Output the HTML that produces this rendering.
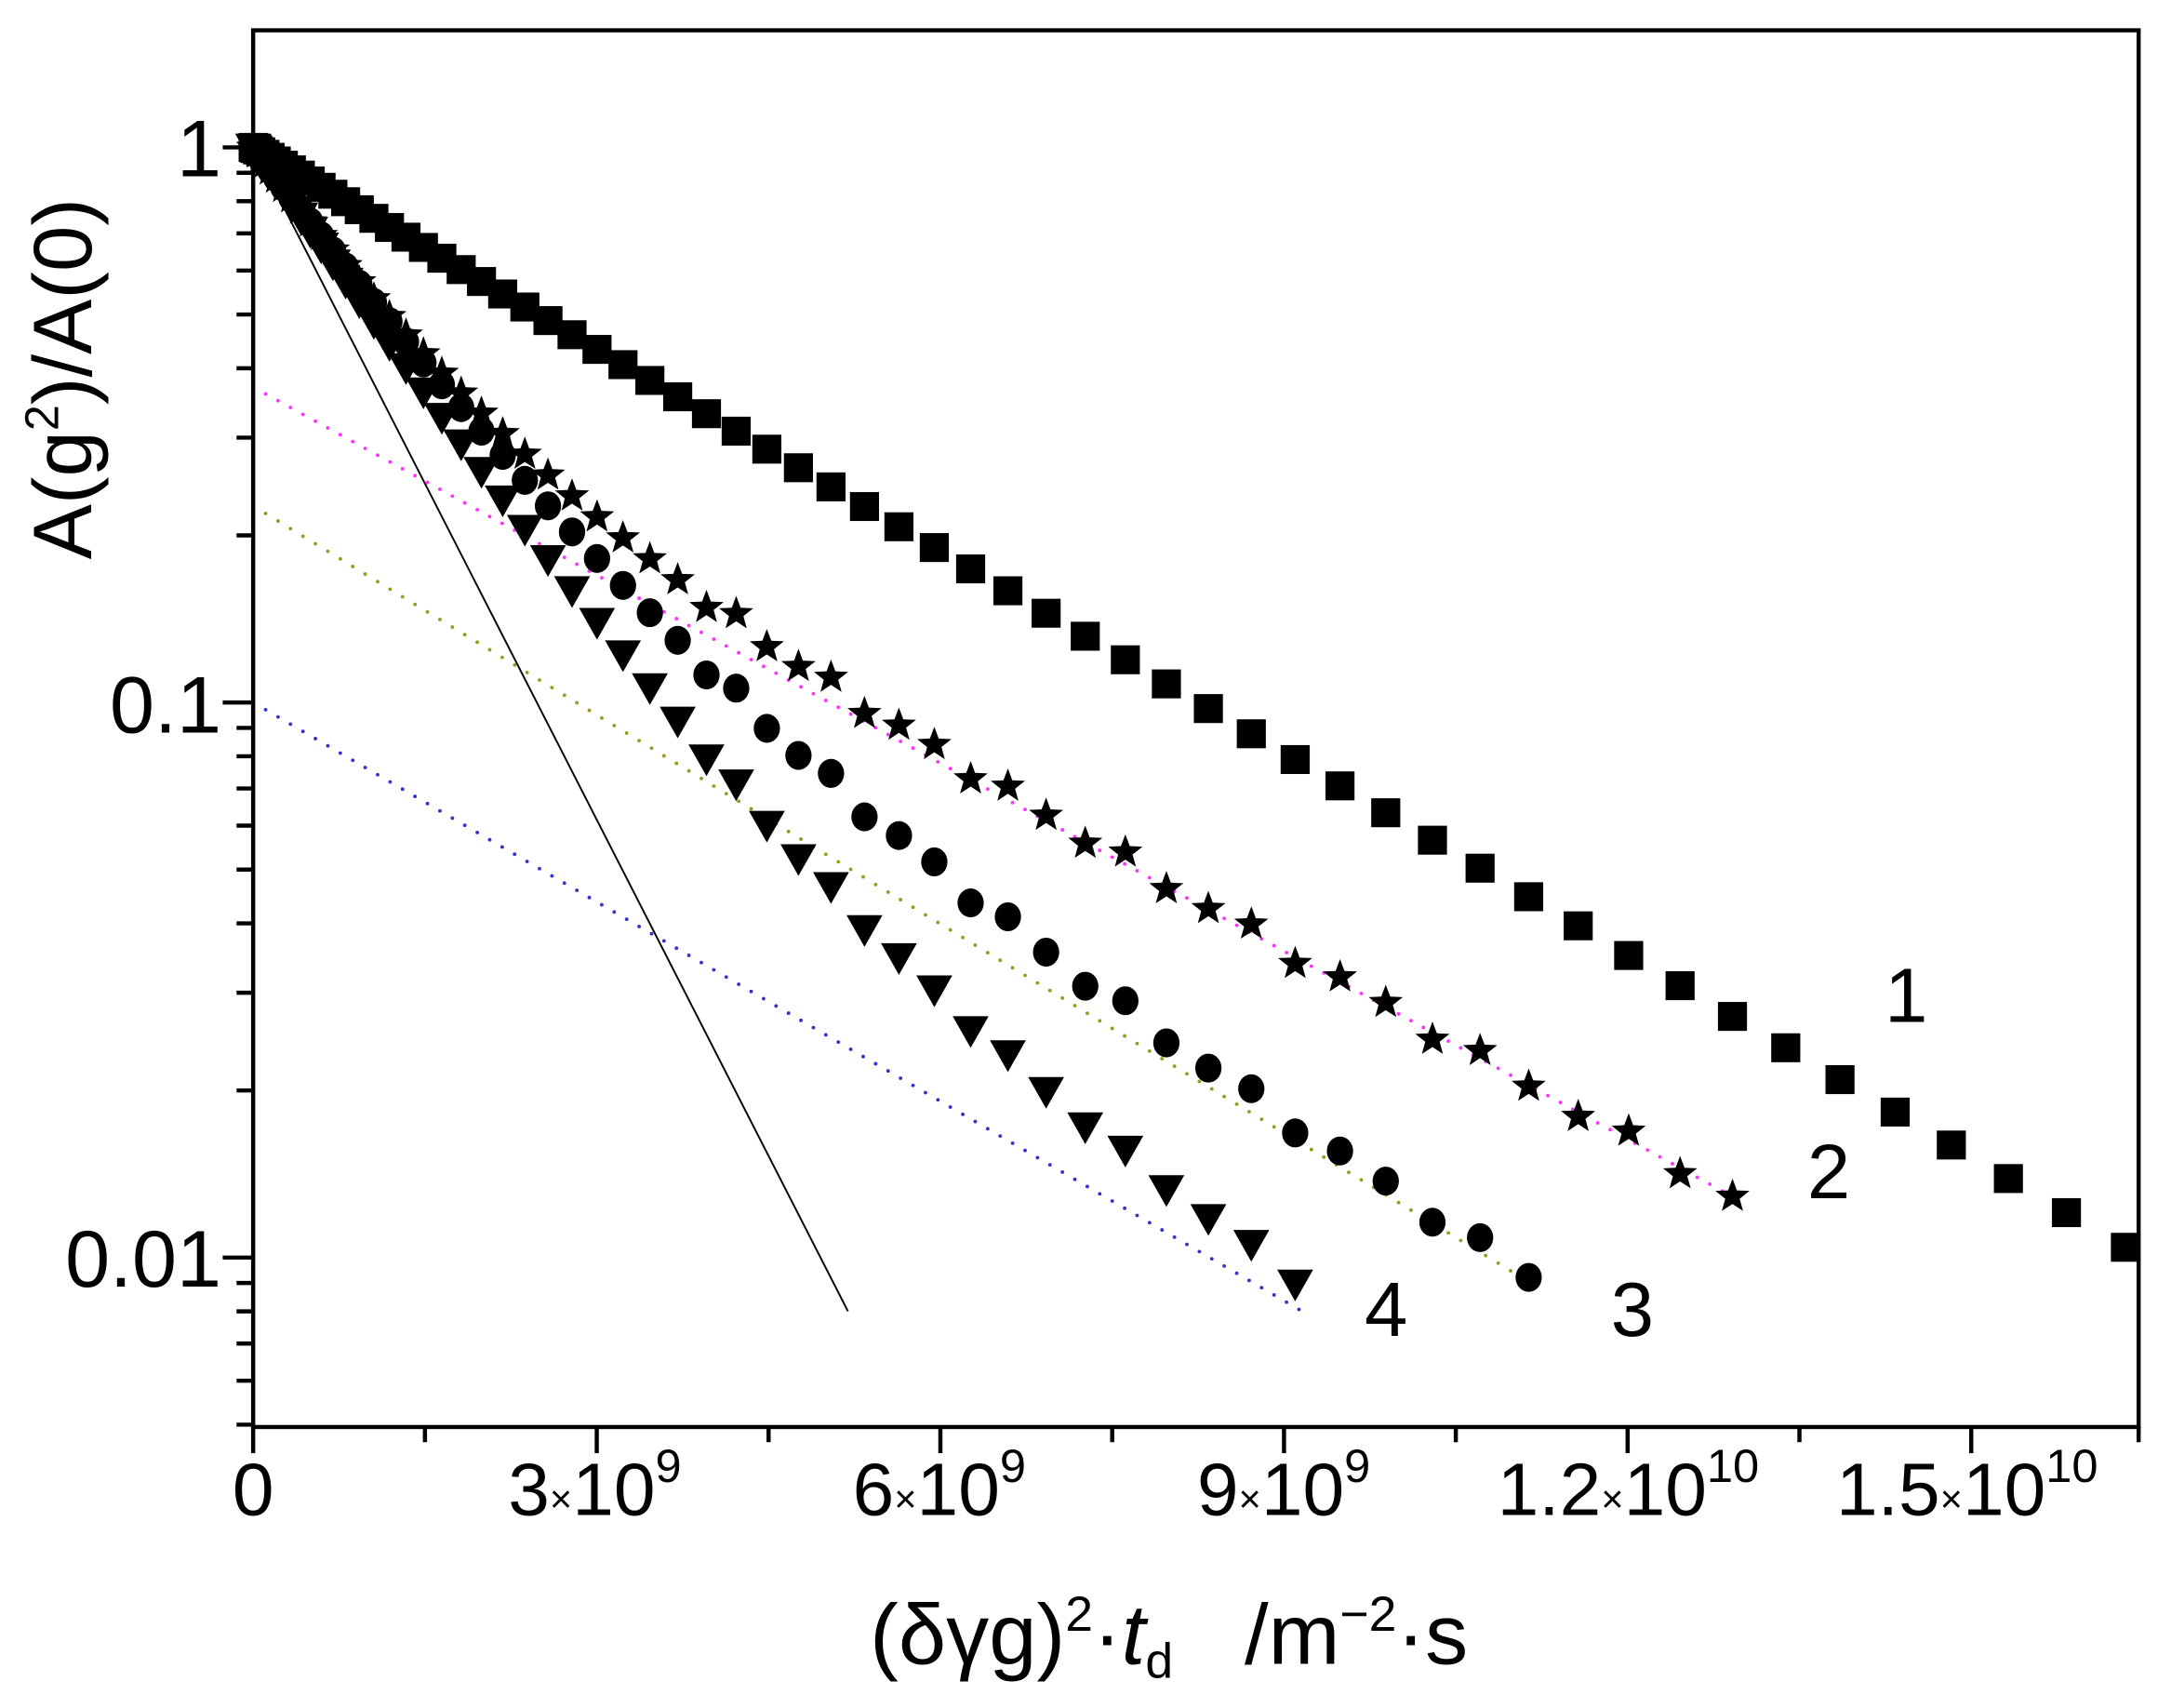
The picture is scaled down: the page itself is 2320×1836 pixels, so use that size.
<!DOCTYPE html>
<html><head><meta charset="utf-8"><style>
html,body{margin:0;padding:0;background:#fff;}
svg{display:block;}
text{font-family:"Liberation Sans",sans-serif;fill:#000;}
</style></head><body>
<svg id="s" width="2320" height="1836" viewBox="0 0 1560 1240" preserveAspectRatio="none" xmlns="http://www.w3.org/2000/svg">
<g id="marks"></g>
<line x1="183" y1="107" x2="613" y2="952" stroke="#000" stroke-width="1.3"/>
<rect x="183" y="22" width="1363" height="1014" fill="none" stroke="#000" stroke-width="3"/>
<g id="ticks" stroke="#000" stroke-width="3"></g>
<g font-size="58" text-anchor="end">
<text x="160" y="128">1</text>
<text x="160" y="532">0.1</text>
<text x="160" y="934">0.01</text>
</g>
<g font-size="54" text-anchor="middle">
<text x="183" y="1100">0</text>
<text x="430" y="1100">3<tspan font-size="28" dy="-2">×</tspan><tspan dy="2">10</tspan><tspan font-size="34" dy="-24">9</tspan></text>
<text x="679" y="1100">6<tspan font-size="28" dy="-2">×</tspan><tspan dy="2">10</tspan><tspan font-size="34" dy="-24">9</tspan></text>
<text x="928" y="1100">9<tspan font-size="28" dy="-2">×</tspan><tspan dy="2">10</tspan><tspan font-size="34" dy="-24">9</tspan></text>
<text x="1177" y="1100">1.2<tspan font-size="28" dy="-2">×</tspan><tspan dy="2">10</tspan><tspan font-size="34" dy="-24">10</tspan></text>
<text x="1422" y="1100">1.5<tspan font-size="28" dy="-2">×</tspan><tspan dy="2">10</tspan><tspan font-size="34" dy="-24">10</tspan></text>
</g>
<text x="845" y="1208" font-size="62" text-anchor="middle">(δγg)<tspan font-size="36" dy="-24">2</tspan><tspan dy="24">·</tspan><tspan font-style="italic">t</tspan><tspan font-size="36" dy="10">d</tspan><tspan dy="-10" xml:space="preserve">   /m</tspan><tspan font-size="36" dy="-24">−2</tspan><tspan dy="24">·s</tspan></text>
<text transform="translate(66,275) rotate(-90)" font-size="60" text-anchor="middle">A(g<tspan font-size="34" dy="-24">2</tspan><tspan dy="24">)/A(0)</tspan></text>
<g font-size="56" text-anchor="middle">
<text x="1378" y="742">1</text>
<text x="1322" y="870">2</text>
<text x="1180" y="970">3</text>
<text x="1002" y="970">4</text>
</g>
</svg>
<script>
var NS="http://www.w3.org/2000/svg";
var M=document.getElementById('marks'),T=document.getElementById('ticks');
function el(n,a,p){var e=document.createElementNS(NS,n);for(var k in a)e.setAttribute(k,a[k]);(p||M).appendChild(e);return e;}
function Y(v){return 107-403*Math.log10(v);}
var K=0.341;
function dots(v0,b,uend,col){for(var u=0;u<=uend;u+=9){var x=183+u,y=Y(v0*Math.exp(-b*u));el('circle',{cx:x,cy:y,r:1.3,fill:col});}}
dots(0.37,0.00314,1077,'#ff33ff');
dots(0.226,0.00349,935,'#9a9a20');
dots(0.1,0.00333,759,'#3333cc');
function star(x,y,R){var r=R*0.42,p='';for(var i=0;i<10;i++){var a=-Math.PI/2+i*Math.PI/5,rr=i%2?r:R;p+=(i?'L':'M')+(x+rr*Math.cos(a)).toFixed(1)+' '+(y+rr*Math.sin(a)).toFixed(1);}el('path',{d:p+'Z',fill:'#000'});}
for(var n=0;n<=63;n++){var u=K*n*n,x=183+u;
 var y1=107+u*0.59;el('rect',{x:x-10.5,y:y1-10.5,width:21,height:21,fill:'#000'});
 var j=(n>30?6*Math.sin(n*2.3):0);
 if(n<=56){var v=0.63*Math.exp(-0.0105*u)+0.37*Math.exp(-0.00314*u);star(x,Y(v)+j,13);}
 if(n<=52){var v=0.774*Math.exp(-0.0088*u)+0.226*Math.exp(-0.00349*u);el('ellipse',{cx:x,cy:Y(v)+j,rx:9.5,ry:10.5,fill:'#000'});}
 if(n<=47){var v=0.9*Math.exp(-0.009*u)+0.1*Math.exp(-0.00333*u);var yy=Y(v)+j*0.6;el('path',{d:'M'+(x-13)+' '+(yy-10)+'L'+(x+13)+' '+(yy-10)+'L'+x+' '+(yy+13)+'Z',fill:'#000'});}
}
for(var i=0;i<=11;i++){var x=183+i*1.5*82.8;if(x>1547)break;var maj=i%2==0;el('line',{x1:x,y1:1036,x2:x,y2:maj?1055:1047},T);}
el('line',{x1:1546,y1:1036,x2:1546,y2:1047},T);
for(var d=-3;d<=0;d++){for(var m=1;m<=9;m++){var v=m*Math.pow(10,d),y=Y(v);if(y<22||y>1036)continue;el('line',{x1:183,y1:y,x2:m==1?161:171,y2:y},T);}}
</script>
</body></html>
